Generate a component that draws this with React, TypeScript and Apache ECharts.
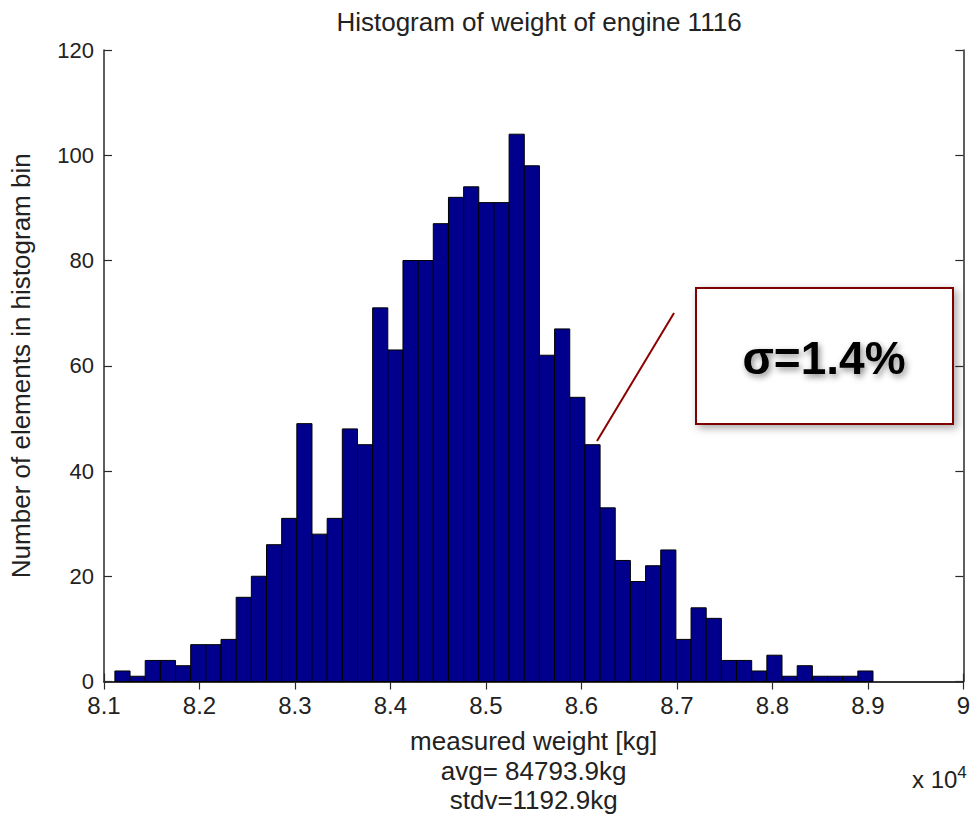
import React, { useEffect, useRef } from "react";
import * as echarts from "echarts";

// Histogram data (x in units of 10^4 kg)
const binStart = 8.1114;
const binWidth = 0.01588;
const counts = [
  2, 1, 4, 4, 3, 7, 7, 8, 16, 20,
  26, 31, 49, 28, 31, 48, 45, 71, 63, 80,
  80, 87, 92, 94, 91, 91, 104, 98, 62, 67,
  54, 45, 33, 23, 19, 22, 25, 8, 14, 12,
  4, 4, 2, 5, 1, 3, 1, 1, 1, 2,
];
const xMin = 8.1;
const xMax = 9.0;
const xInterval = 0.1;
const yMin = 0;
const yMax = 120;
const yInterval = 20;

const titleText = "Histogram of weight of engine 1116";
const xName = "measured weight [kg]\navg= 84793.9kg\nstdv=1192.9kg";
const yName = "Number of elements in histogram bin";
const annotationText = "\u03c3=1.4%";

const FONT = "'Liberation Sans', Arial, Helvetica, sans-serif";
const TXT = "#222222";
const AXIS = "#2a2a2a";

export default function App() {
  const ref = useRef<HTMLDivElement>(null);

  useEffect(() => {
    if (!ref.current) return;
    const chart = echarts.init(ref.current, undefined, { renderer: "svg" });

    const bins = counts.map((c, i) => [
      binStart + i * binWidth,
      binStart + (i + 1) * binWidth,
      c,
    ]);

    const axisLine = { show: true, lineStyle: { color: AXIS, width: 1.5 } };
    const axisTick = { show: true, inside: true, length: 8, lineStyle: { color: AXIS, width: 1.2 } };

    chart.setOption({
      animation: false,
      backgroundColor: "#ffffff",
      title: {
        text: titleText,
        left: 534,
        textAlign: "center",
        top: 3,
        textStyle: { fontFamily: FONT, fontSize: 26, fontWeight: "normal", color: TXT, lineHeight: 28 },
      },
      grid: { left: 102, right: 6, top: 50, bottom: 134, containLabel: false },
      xAxis: [
        {
          type: "value",
          min: xMin,
          max: xMax,
          interval: xInterval,
          position: "bottom",
          axisLine,
          axisTick,
          splitLine: { show: false },
          axisLabel: {
            margin: 14,
            fontFamily: FONT,
            fontSize: 24,
            lineHeight: 19,
            color: TXT,
            formatter: (v: number) => String(Math.round(v * 10) / 10),
          },
          name: xName,
          nameLocation: "middle",
          nameGap: 45,
          nameTextStyle: { fontFamily: FONT, fontSize: 26, color: TXT, lineHeight: 29.5 },
        },
        {
          type: "value",
          min: xMin,
          max: xMax,
          interval: xInterval,
          position: "top",
          axisLine,
          axisTick,
          splitLine: { show: false },
          axisLabel: { show: false },
        },
      ],
      yAxis: [
        {
          type: "value",
          min: yMin,
          max: yMax,
          interval: yInterval,
          position: "left",
          axisLine,
          axisTick,
          splitLine: { show: false },
          axisLabel: { margin: 10, fontFamily: FONT, fontSize: 22, lineHeight: 18, color: TXT },
          name: yName,
          nameLocation: "middle",
          nameGap: 70,
          nameTextStyle: { fontFamily: FONT, fontSize: 26, color: TXT },
        },
        {
          type: "value",
          min: yMin,
          max: yMax,
          interval: yInterval,
          position: "right",
          axisLine,
          axisTick,
          splitLine: { show: false },
          axisLabel: { show: false },
        },
      ],
      series: [
        {
          type: "custom",
          xAxisIndex: 0,
          yAxisIndex: 0,
          data: bins,
          encode: { x: [0, 1], y: 2 },
          renderItem: (_params: any, api: any) => {
            const p0 = api.coord([api.value(0), api.value(2)]);
            const p1 = api.coord([api.value(1), 0]);
            return {
              type: "rect",
              shape: { x: p0[0], y: p0[1], width: p1[0] - p0[0], height: p1[1] - p0[1] },
              style: { fill: "#00008c", stroke: "#000000", lineWidth: 1 },
            };
          },
        },
      ],
      graphic: [
        {
          type: "text",
          left: 912,
          top: 764,
          style: {
            text: "x 10{sup|4}",
            font: `24px ${FONT}`,
            fill: TXT,
            rich: {
              sup: { fontFamily: FONT, fontSize: 17, verticalAlign: "top", padding: [0, 0, 14, 0], fill: TXT },
            },
          },
        },
        {
          type: "line",
          z: 100,
          shape: { x1: 674, y1: 313, x2: 597, y2: 441 },
          style: { stroke: "#8b0000", lineWidth: 2 },
        },
        {
          type: "rect",
          z: 100,
          shape: { x: 696, y: 288, width: 257, height: 136 },
          style: {
            fill: "#ffffff",
            stroke: "#7f0000",
            lineWidth: 2,
            shadowBlur: 8,
            shadowColor: "rgba(0,0,0,0.35)",
            shadowOffsetX: 3,
            shadowOffsetY: 3,
          },
        },
        {
          type: "text",
          z: 101,
          x: 824,
          y: 358,
          style: {
            text: annotationText,
            font: `bold 46px ${FONT}`,
            fill: "#000000",
            align: "center",
            verticalAlign: "middle",
            textShadowBlur: 6,
            textShadowColor: "rgba(0,0,0,0.45)",
            textShadowOffsetX: 2,
            textShadowOffsetY: 3,
          },
        },
      ],
    });

    return () => chart.dispose();
  }, []);

  return (
    <div
      ref={ref}
      style={{ position: "fixed", left: 0, top: 0, width: 973, height: 820 }}
    />
  );
}
